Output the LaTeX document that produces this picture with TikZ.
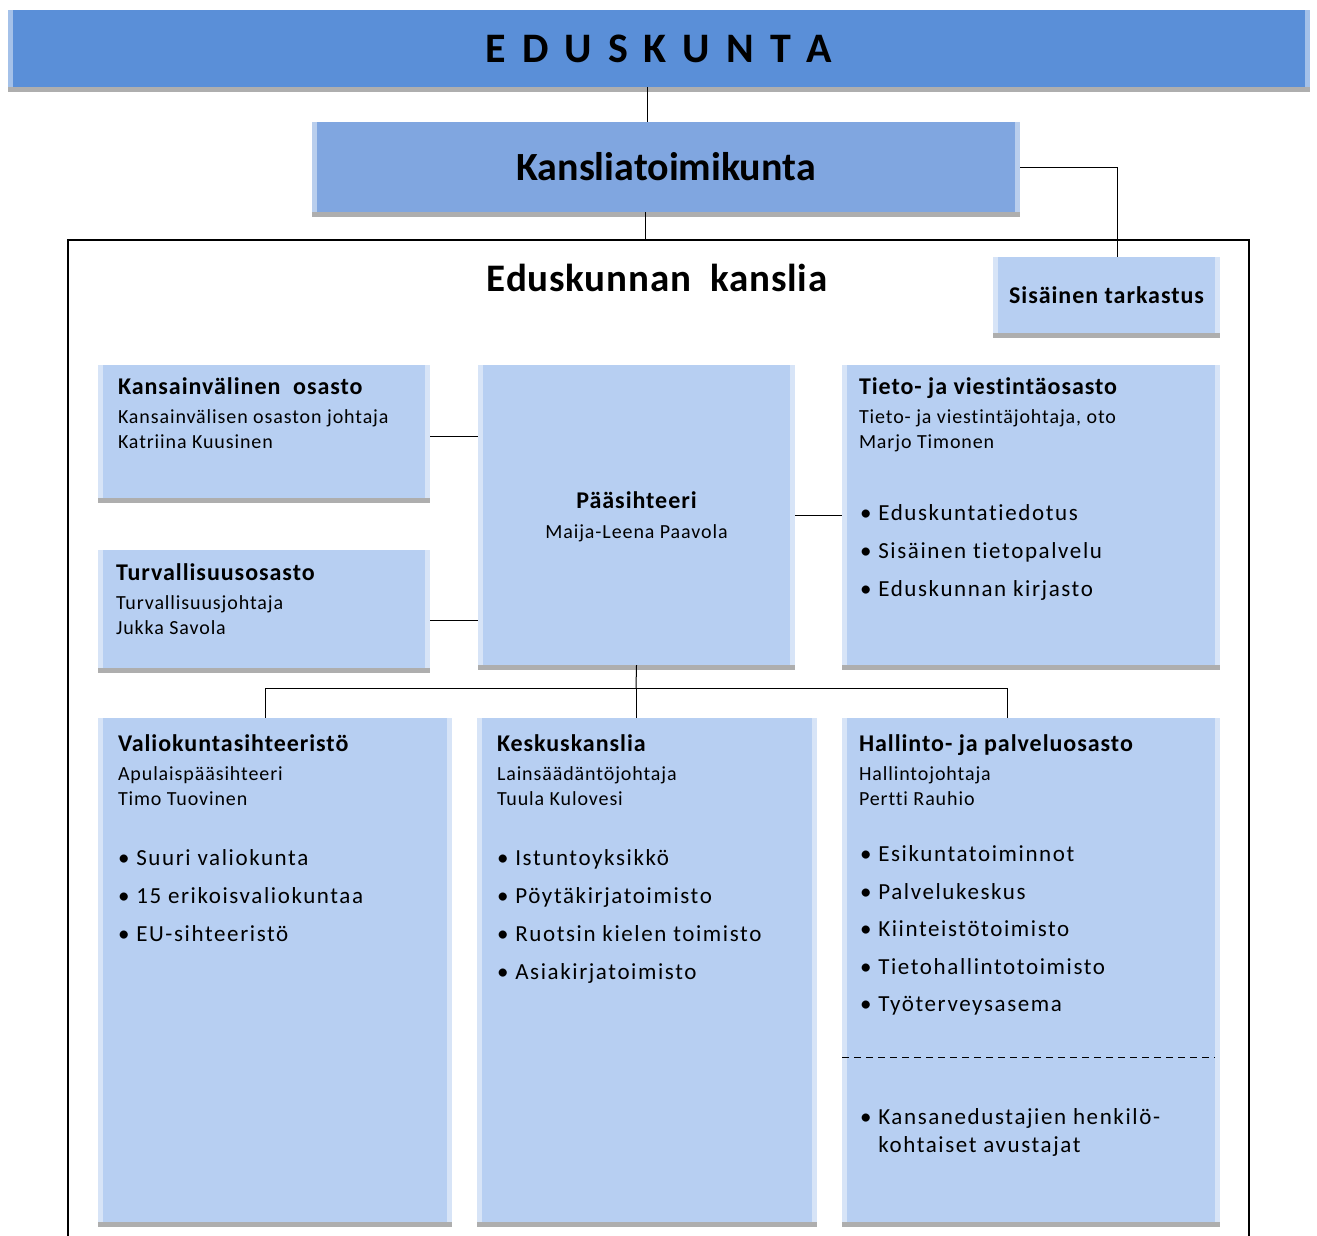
\documentclass[tikz,border=0pt]{standalone}
\usepackage{fontspec}
\setmainfont{Carlito}[Ligatures=NoCommon]
\usetikzlibrary{positioning,fit,shadows}

\definecolor{bannerblue}{HTML}{5A8FD8}
\definecolor{boardblue}{HTML}{80A6E0}
\definecolor{unitblue}{HTML}{B7CFF2}

\newcommand\unithead{\fontsize{24}{28}\selectfont\bfseries\addfontfeature{LetterSpace=4}}

\tikzset{
  bevel/.style={draw=none, inner sep=0pt,
    drop shadow={shadow xshift=0pt, shadow yshift=-5pt, opacity=0.45, fill=black!70},
    path picture={
      \fill[white,opacity=0.45] (path picture bounding box.north west) rectangle ([xshift=5pt]path picture bounding box.south west);
      \fill[white,opacity=0.45] (path picture bounding box.north east) rectangle ([xshift=-5pt]path picture bounding box.south east);
    }},
  unitbox/.style={bevel, fill=unitblue},
  headtext/.style={anchor=north west, inner sep=0pt, align=left,
    font=\fontsize{20}{25}\selectfont\addfontfeature{LetterSpace=4.5}},
  itemtext/.style={anchor=north west, inner sep=0pt, align=left,
    font=\fontsize{23}{38}\selectfont\addfontfeature{LetterSpace=7}},
  link/.style={draw=black, line width=1pt},
}

\begin{document}
\begin{tikzpicture}[x=1pt,y=-1pt]
    \useasboundingbox (0,0) rectangle (1317,1235);

    % top boxes
    \node[bevel, fill=bannerblue, fit={(8,10) (1310,87)}] (edk) {};
    \node[font=\fontsize{42}{50}\selectfont\bfseries] (edkt) at (edk.center)
      {E\kern16pt D\kern16pt U\kern16pt S\kern16pt K\kern16pt U\kern16pt N\kern16pt T\kern16pt A};
    \node[bevel, fill=boardblue, fit={(312,122) (1020,212)}] (ktk) {};
    \node[font=\fontsize{40}{46}\selectfont\bfseries] (ktkt) at (ktk.center) {Kansliatoimikunta};

    % frame of the office, open at the bottom
    \draw[line width=2pt] (68,1240) |- (1249,240) -- (1249,1240);
    \node[font=\fontsize{39}{46}\selectfont\bfseries\addfontfeature{LetterSpace=2}] (title) at (657,278) {Eduskunnan\ \ kanslia};
    \coordinate (frametop) at (645,240);

    \node[unitbox, fit={(993,257) (1220,333)}] (sis) {};
    \node[font=\fontsize{24}{28}\selectfont\bfseries\addfontfeature{LetterSpace=4}] (sist) at (sis.center) {Sisäinen tarkastus};

    % middle row
    \node[unitbox, fit={(98,365) (430,498)}] (kansv) {};
    \node[unitbox, fit={(98,550) (430,668)}] (turv) {};
    \node[unitbox, fit={(478,365) (795,665)}] (pas) {};
    \node[unitbox, fit={(842,365) (1220,665)}] (tieto) {};

    % bottom row
    \node[unitbox, fit={(98,718) (452,1222)}] (valio) {};
    \node[unitbox, fit={(477,718) (817,1222)}] (kesk) {};
    \node[unitbox, fit={(842,718) (1220,1222)}] (hal) {};

    % Text Nodes
    \node[headtext, below right=13pt and 20pt of kansv.north west] (kansvt)
      {{\unithead Kansainvälinen\ \ osasto}\\[4pt]
       Kansainvälisen osaston johtaja\\ Katriina Kuusinen};
    \node[headtext, below right=14pt and 18pt of turv.north west] (turvt)
      {{\unithead Turvallisuusosasto}\\[4pt]
       Turvallisuusjohtaja\\ Jukka Savola};
    \node[align=center, font=\fontsize{20}{30}\selectfont\addfontfeature{LetterSpace=4.5}] (past) at ([yshift=-2pt]pas.center)
      {{\unithead Pääsihteeri}\\ Maija-Leena Paavola};
    \node[headtext, below right=13pt and 17pt of tieto.north west] (tietot)
      {{\unithead Tieto- ja viestintäosasto}\\[4pt]
       Tieto- ja viestintäjohtaja, oto\\ Marjo Timonen};
    \node[itemtext, below right=140pt and 18pt of tieto.north west] (tietoi)
      {\textbullet\ Eduskuntatiedotus\\ \textbullet\ Sisäinen tietopalvelu\\ \textbullet\ Eduskunnan kirjasto};

    \node[headtext, below right=17pt and 20pt of valio.north west] (valiot)
      {{\unithead Valiokuntasihteeristö}\\[4pt]
       Apulaispääsihteeri\\ Timo Tuovinen};
    \node[itemtext, below right=132pt and 20pt of valio.north west] (valioi)
      {\textbullet\ Suuri valiokunta\\ \textbullet\ 15 erikoisvaliokuntaa\\ \textbullet\ EU-sihteeristö};

    \node[headtext, below right=17pt and 20pt of kesk.north west] (keskt)
      {{\unithead Keskuskanslia}\\[4pt]
       Lainsäädäntöjohtaja\\ Tuula Kulovesi};
    \node[itemtext, below right=132pt and 20pt of kesk.north west] (keski)
      {\textbullet\ Istuntoyksikkö\\ \textbullet\ Pöytäkirjatoimisto\\ \textbullet\ Ruotsin kielen toimisto\\ \textbullet\ Asiakirjatoimisto};

    \node[headtext, below right=17pt and 17pt of hal.north west] (halt)
      {{\unithead Hallinto- ja palveluosasto}\\[4pt]
       Hallintojohtaja\\ Pertti Rauhio};
    \node[itemtext, font=\fontsize{23}{37.5}\selectfont\addfontfeature{LetterSpace=7}, below right=128pt and 18pt of hal.north west] (hali)
      {\textbullet\ Esikuntatoiminnot\\ \textbullet\ Palvelukeskus\\ \textbullet\ Kiinteistötoimisto\\ \textbullet\ Tietohallintotoimisto\\ \textbullet\ Työterveysasema};
    \node[itemtext, font=\fontsize{23}{28}\selectfont\addfontfeature{LetterSpace=7}, below right=391pt and 18pt of hal.north west] (halx)
      {\textbullet\ Kansanedustajien henkilö-\\ \phantom{\textbullet\ }kohtaiset avustajat};
    \coordinate (dashl) at (842,1057);
    \draw[line width=1pt, dash pattern=on 7pt off 5pt] (dashl) -- ([xshift=-5pt]dashl -| hal.east);

    % Straight Lines
    \coordinate (spine) at (647,0);
    \draw[link] (edk.south -| spine) -- (ktk.north -| spine);
    \draw[link] (ktk.south -| frametop) -- (frametop);
    \draw[link] (ktk.east) -| ([xshift=11pt]sis.north);
    \draw[link] ([yshift=-5pt]kansv.east) -- ([yshift=-5pt]kansv.east -| pas.west);
    \draw[link] ([yshift=-11pt]turv.east) -- ([yshift=-11pt]turv.east -| pas.west);
    \draw[link] (pas.east) -- (tieto.west);

    \coordinate (bus) at (636,688);
    \coordinate (dropv) at (265,688);
    \coordinate (droph) at (1007,688);
    \draw[link] (pas.south) -- (bus);
    \draw[link] (dropv) -- (droph);
    \draw[link] (dropv) -- (dropv |- valio.north);
    \draw[link] (bus) -- (bus |- kesk.north);
    \draw[link] (droph) -- (droph |- hal.north);
\end{tikzpicture}
\end{document}
